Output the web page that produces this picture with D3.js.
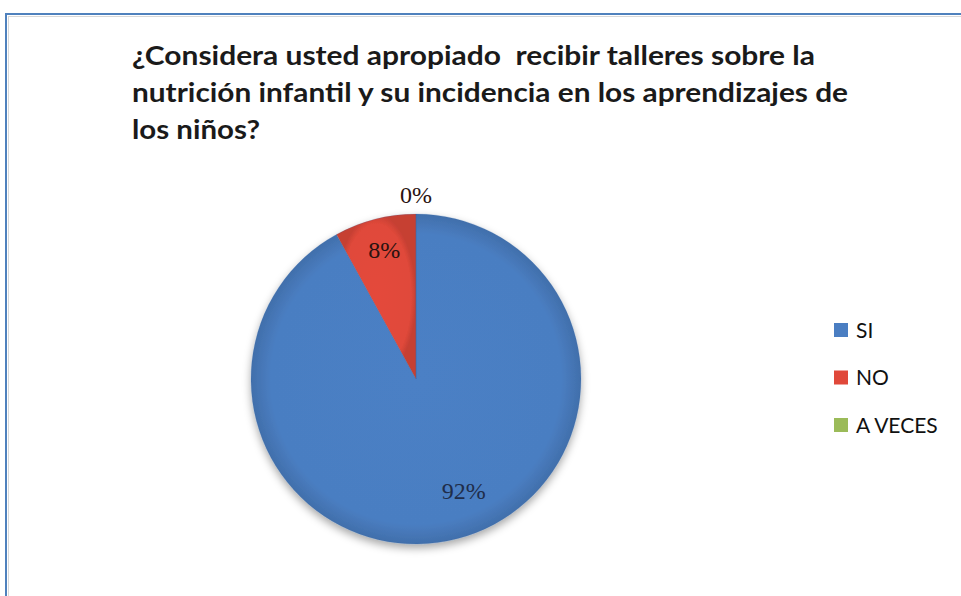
<!DOCTYPE html>
<html>
<head>
<meta charset="utf-8">
<script src="https://cdn.jsdelivr.net/npm/d3@7"></script>
<style>
  body { margin: 0; background: #fff; }
  svg { display: block; }
</style>
</head>
<body>
<div id="chart"></div>
<script>
// data
var categories = ["SI", "NO", "A VECES"];
var values = [92, 8, 0];
var colors = ["#4a7ec2", "#e0483a", "#9bbb59"];
var titleLines = [
    "¿Considera usted apropiado  recibir talleres sobre la",
    "nutrición infantil y su incidencia en los aprendizajes de",
    "los niños?"
];
var titleWidths = [683, 716, 128];

var W = 961, H = 596;

var svg = d3.select("#chart").append("svg")
    .attr("width", W)
    .attr("height", H);

var defs = svg.append("defs");

var shadow = defs.append("filter").attr("id", "shadow")
    .attr("x", "-20%").attr("y", "-20%").attr("width", "140%").attr("height", "140%");
shadow.append("feDropShadow")
    .attr("dx", 0).attr("dy", 4).attr("stdDeviation", 4)
    .attr("flood-color", "#000").attr("flood-opacity", 0.35);

colors.forEach(function (c, i) {
    var g = defs.append("radialGradient").attr("id", "grad" + i)
        .attr("cx", "50%").attr("cy", "50%").attr("r", "50%")
        .attr("gradientUnits", "objectBoundingBox");
    g.append("stop").attr("offset", "0%").attr("stop-color", d3.color(c).brighter(0.05));
    g.append("stop").attr("offset", "88%").attr("stop-color", c);
    g.append("stop").attr("offset", "100%").attr("stop-color", d3.color(c).darker(0.35));
});

// chart frame
svg.append("rect")
    .attr("x", 6).attr("y", 14)
    .attr("width", 1000).attr("height", 1000)
    .attr("fill", "none")
    .attr("stroke", "#4f81bd")
    .attr("stroke-width", 2);
svg.append("rect")
    .attr("x", 8.5).attr("y", 16.5)
    .attr("width", 1000).attr("height", 1000)
    .attr("fill", "none")
    .attr("stroke", "#d8d8d8")
    .attr("stroke-width", 1);

// title
svg.append("g").selectAll("text")
    .data(titleLines)
    .join("text")
    .attr("x", 132)
    .attr("y", function (d, i) { return 65 + i * 37; })
    .attr("textLength", function (d, i) { return titleWidths[i]; })
    .attr("lengthAdjust", "spacingAndGlyphs")
    .style("white-space", "pre")
    .attr("font-family", "Lato, 'DejaVu Sans', sans-serif")
    .attr("font-weight", 700)
    .attr("font-size", 26)
    .attr("fill", "#1a1a1a")
    .text(function (d) { return d; });

// pie
var cx = 416, cy = 379, r = 165;
var pie = d3.pie().sort(null).value(function (d) { return d; });
var arcs = pie(values);
var arc = d3.arc().innerRadius(0).outerRadius(r);

var pieG = svg.append("g")
    .attr("transform", "translate(" + cx + "," + cy + ")");

pieG.append("g").attr("filter", "url(#shadow)")
    .selectAll("path")
    .data(arcs)
    .join("path")
    .attr("d", arc)
    .attr("fill", function (d, i) { return "url(#grad" + i + ")"; })
    .attr("stroke", "#3c6aa3")
    .attr("stroke-opacity", 0.25)
    .attr("stroke-width", 0.8);

// data labels: inside for non-empty slices, outside for the empty one
var labelArcs = [
    d3.arc().innerRadius(r * 0.75).outerRadius(r * 0.75),
    d3.arc().innerRadius(r * 0.80).outerRadius(r * 0.80),
    d3.arc().innerRadius(r * 1.12).outerRadius(r * 1.12)
];
var labelNudge = [[17, -8], [1, -2], [0, 0]];

pieG.selectAll("text.lbl")
    .data(arcs)
    .join("text")
    .attr("class", "lbl")
    .attr("transform", function (d, i) {
        var p = labelArcs[i].centroid(d);
        return "translate(" + (p[0] + labelNudge[i][0]) + "," + (p[1] + labelNudge[i][1]) + ")";
    })
    .attr("text-anchor", "middle")
    .attr("dy", "0.35em")
    .attr("font-family", "'Liberation Serif', 'DejaVu Serif', serif")
    .attr("font-size", 24)
    .attr("fill", function (d, i) { return i === 0 ? "#1f2d4a" : "#2a1210"; })
    .text(function (d) { return d.data + "%"; });

// legend
var legend = svg.append("g").attr("transform", "translate(834,330)");
var item = legend.selectAll("g")
    .data(categories)
    .join("g")
    .attr("transform", function (d, i) { return "translate(0," + (i * 47.5) + ")"; });

item.append("rect")
    .attr("x", 0).attr("y", -7)
    .attr("width", 14).attr("height", 14)
    .attr("fill", function (d, i) { return colors[i]; });

item.append("text")
    .attr("x", 22)
    .attr("dy", "0.36em")
    .attr("font-family", "Lato, 'DejaVu Sans', sans-serif")
    .attr("font-size", 21)
    .attr("fill", "#111")
    .text(function (d) { return d; });
</script>
</body>
</html>
